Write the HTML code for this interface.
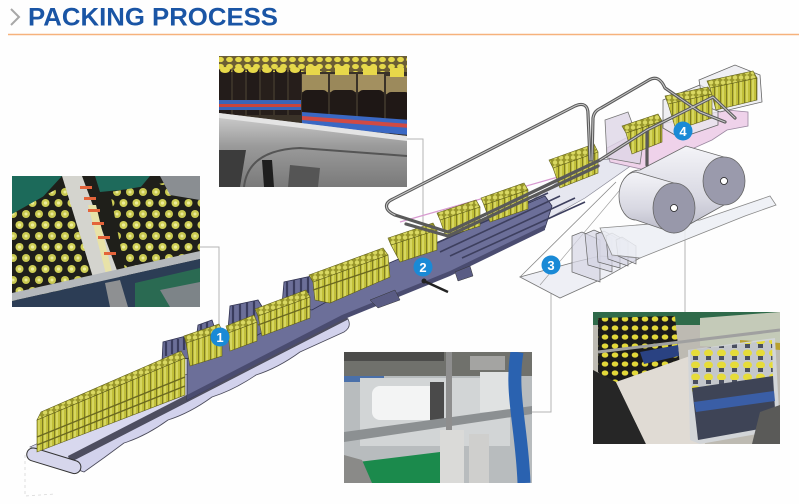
<!DOCTYPE html>
<html><head><meta charset="utf-8"><style>
html,body{margin:0;padding:0;background:#fff;}
svg{display:block}
</style></head><body>
<svg width="799" height="504" viewBox="0 0 799 504" xmlns="http://www.w3.org/2000/svg">
<defs>
<pattern id="bt" width="6" height="20" patternUnits="userSpaceOnUse">
<rect width="6" height="20" fill="#c2c03a"/><rect x="0" width="1.1" height="20" fill="#7e7c22"/><rect x="2.2" width="1.6" height="20" fill="#dcdb6a"/></pattern>
<pattern id="cp" width="6" height="5" patternUnits="userSpaceOnUse">
<rect width="6" height="5" fill="#98962a"/><circle cx="3" cy="2.5" r="2.2" fill="#d9d862"/></pattern>
<pattern id="caps1" width="13" height="22" patternUnits="userSpaceOnUse">
<rect width="13" height="22" fill="#1f1f1a"/><circle cx="6.5" cy="5" r="4" fill="#cfcf55"/><circle cx="6.5" cy="5" r="1.6" fill="#eeee9c"/>
<circle cx="0" cy="16" r="4" fill="#c9c950"/><circle cx="13" cy="16" r="4" fill="#c9c950"/><circle cx="0" cy="16" r="1.5" fill="#eaea98"/><circle cx="13" cy="16" r="1.5" fill="#eaea98"/></pattern>
<pattern id="caps2" width="9" height="7" patternUnits="userSpaceOnUse">
<rect width="9" height="7" fill="#6c5e34"/><ellipse cx="4.5" cy="3.5" rx="3.4" ry="2.6" fill="#e4d84a"/></pattern>
<pattern id="caps4" width="10" height="9" patternUnits="userSpaceOnUse">
<rect width="10" height="9" fill="#1b1b1b"/><ellipse cx="5" cy="4" rx="3.3" ry="2.6" fill="#e2d83a"/></pattern>
<pattern id="caps4b" width="13" height="12" patternUnits="userSpaceOnUse">
<rect width="13" height="12" fill="#c4c7cb"/><ellipse cx="6.5" cy="5" rx="4.5" ry="3.5" fill="#e6dc3a"/><rect x="4" y="8" width="5" height="4" fill="#4a4f60"/></pattern>
<linearGradient id="steel" x1="0" y1="0" x2="0" y2="1"><stop offset="0" stop-color="#d0d0d0"/><stop offset="0.45" stop-color="#9a9a9a"/><stop offset="1" stop-color="#7a7a7a"/></linearGradient>
<linearGradient id="roll" x1="0" y1="0" x2="0" y2="1"><stop offset="0" stop-color="#f4f4f8"/><stop offset="0.6" stop-color="#d8d8e2"/><stop offset="1" stop-color="#b8b8c6"/></linearGradient>
<clipPath id="c1"><rect x="12" y="176" width="188" height="131"/></clipPath>
<clipPath id="c2"><rect x="219" y="56" width="188" height="131"/></clipPath>
<clipPath id="c3"><rect x="344" y="352" width="188" height="131"/></clipPath>
<clipPath id="c4"><rect x="593" y="312" width="187" height="132"/></clipPath>
</defs>
<rect width="799" height="504" fill="#fefefe"/>

<!-- header -->
<polyline points="11,9 19,17 11,25" fill="none" stroke="#a8a8a8" stroke-width="2"/>
<text x="28" y="25.5" font-family="Liberation Sans, Arial, sans-serif" font-weight="bold" font-size="25" fill="#1a55a5" textLength="250" lengthAdjust="spacingAndGlyphs">PACKING PROCESS</text>
<line x1="8" y1="34.5" x2="799" y2="34.5" stroke="#f6b27c" stroke-width="1.6"/>

<polyline points="25,455 25,496 55,494" fill="none" stroke="#d8d8d8" stroke-width="0.8" stroke-dasharray="3,3"/>

<!-- connectors -->
<g stroke="#b4b4b4" stroke-width="1" fill="none">
<polyline points="200,247 219,247 219,330"/>
<polyline points="407,139 423,139 423,260"/>
<polyline points="551,272 551,412 532,412"/>
<polyline points="685,138 685,312"/>
</g>

<!-- ===== PHOTO 1 ===== -->
<g clip-path="url(#c1)">
<rect x="12" y="176" width="188" height="131" fill="#1f1f1a"/>
<polygon points="12,176 62,176 40,200 12,218" fill="#1c6a5a"/>
<polygon points="95,176 150,176 140,188 100,192" fill="#1e6a5b"/>
<polygon points="12,214 62,186 70,190 98,300 12,304" fill="url(#caps1)"/>
<polygon points="110,192 170,182 200,180 200,252 125,270" fill="url(#caps1)"/>
<polygon points="160,176 200,176 200,200 170,195" fill="#8a8e92"/>
<polygon points="62,176 82,176 128,300 112,307 102,307" fill="#d4d4ce"/>
<polygon points="88,205 96,205 112,272 106,274" fill="#e8e2a8"/>
<g fill="#e4643a">
<rect x="80" y="186" width="12" height="3"/><rect x="84" y="197" width="12" height="3"/><rect x="88" y="209" width="12" height="3"/><rect x="92" y="222" width="12" height="3"/><rect x="98" y="236" width="12" height="3"/><rect x="104" y="252" width="12" height="3"/></g>
<polygon points="12,293 200,251 200,259 12,301" fill="#b4b8bc"/>
<polygon points="12,301 200,259 200,307 12,307" fill="#2c3d55"/>
<polygon points="135,283 200,268 200,307 135,307" fill="#2a6a52"/>
<polygon points="105,283 120,280 128,307 110,307" fill="#8e9092"/>
<polygon points="160,290 200,282 200,307 170,307" fill="#7d8488"/>
</g>

<!-- ===== PHOTO 2 ===== -->
<g clip-path="url(#c2)">
<rect x="219" y="56" width="188" height="131" fill="#3a3228"/>
<rect x="219" y="56" width="188" height="16" fill="url(#caps2)"/>
<g>
<rect x="219" y="70" width="12" height="45" fill="#231c1a"/><rect x="233" y="70" width="12" height="45" fill="#261e1b"/><rect x="247" y="70" width="12" height="45" fill="#221b19"/><rect x="261" y="70" width="12" height="45" fill="#271f1b"/><rect x="275" y="70" width="12" height="45" fill="#231c1a"/><rect x="289" y="70" width="12" height="45" fill="#261e1b"/>
<rect x="219" y="100" width="82" height="10" fill="#3a64b8"/><rect x="219" y="104" width="82" height="3" fill="#c9443c"/>
<ellipse cx="225" cy="70" rx="5" ry="3" fill="#e6d84a"/><ellipse cx="239" cy="70" rx="5" ry="3" fill="#e6d84a"/><ellipse cx="253" cy="70" rx="5" ry="3" fill="#e6d84a"/><ellipse cx="267" cy="70" rx="5" ry="3" fill="#e6d84a"/><ellipse cx="281" cy="70" rx="5" ry="3" fill="#e6d84a"/><ellipse cx="295" cy="70" rx="5" ry="3" fill="#e6d84a"/>
</g>
<g>
<rect x="302" y="74" width="26" height="18" fill="#a08e5c"/><rect x="302" y="90" width="26" height="38" rx="5" fill="#1f1816"/><rect x="306" y="66" width="14" height="9" fill="#e8d84a"/>
<rect x="330" y="74" width="26" height="18" fill="#9a885a"/><rect x="330" y="90" width="26" height="40" rx="5" fill="#211a17"/><rect x="335" y="66" width="14" height="9" fill="#e8d84a"/>
<rect x="358" y="74" width="26" height="18" fill="#a39060"/><rect x="358" y="90" width="26" height="42" rx="5" fill="#1e1715"/><rect x="363" y="66" width="14" height="9" fill="#e8d84a"/>
<rect x="386" y="76" width="24" height="18" fill="#9c8a5c"/><rect x="386" y="92" width="24" height="42" rx="5" fill="#201816"/><rect x="390" y="68" width="14" height="9" fill="#e8d84a"/>
<polygon points="302,112 410,120 410,135 302,126" fill="#3a68c4"/>
<polygon points="302,116 410,124 410,128 302,120" fill="#d04a44"/>
</g>
<polygon points="219,113 300,123 407,136 407,187 219,187" fill="url(#steel)"/>
<polygon points="219,113 407,136 407,141 219,118" fill="#e4e4e4"/>
<path d="M244,187 Q248,150 300,148 L407,156" fill="none" stroke="#555" stroke-width="2"/>
<polygon points="219,150 246,150 240,187 219,187" fill="#3c3c3c"/>
<polygon points="262,160 272,160 274,187 264,187" fill="#1e1e1e"/>
<polygon points="290,165 320,168 318,187 288,187" fill="#555"/>
</g>

<!-- ===== PHOTO 3 ===== -->
<g clip-path="url(#c3)">
<rect x="344" y="352" width="188" height="131" fill="#b8bcbe"/>
<rect x="344" y="352" width="188" height="24" fill="#70716c"/>
<rect x="344" y="352" width="100" height="9" fill="#4c4c4a"/>
<rect x="470" y="356" width="35" height="14" fill="#a4a4a2"/>
<rect x="344" y="376" width="40" height="6" fill="#4a70aa"/>
<rect x="360" y="378" width="150" height="68" fill="#d2d5d6"/>
<rect x="372" y="386" width="68" height="34" rx="8" fill="#f3f4f4"/>
<rect x="430" y="382" width="14" height="38" fill="#4a4a4a"/>
<rect x="480" y="372" width="40" height="40" fill="#e0e2e2"/>
<polygon points="344,432 532,406 532,414 344,442" fill="#8c9092"/>
<rect x="446" y="352" width="6" height="131" fill="#8e8e8e"/>
<rect x="440" y="430" width="24" height="53" fill="#dadad8"/>
<rect x="469" y="434" width="20" height="49" fill="#cfcfcd"/>
<path d="M517,352 C510,392 522,428 524,483" fill="none" stroke="#2a62b0" stroke-width="13"/>
<polygon points="358,462 440,452 440,483 354,483" fill="#1b8a4c"/>
<polygon points="344,455 362,460 372,483 344,483" fill="#8a8a88"/>
</g>

<!-- ===== PHOTO 4 ===== -->
<g clip-path="url(#c4)">
<rect x="593" y="312" width="187" height="132" fill="#bdbab2"/>
<rect x="593" y="312" width="187" height="13" fill="#2f6a4a"/>
<polygon points="700,318 780,312 780,350 700,346" fill="#c4cab8"/>
<polygon points="740,340 780,343 780,350 740,347" fill="#b8a030"/>
<polygon points="598,318 675,316 680,366 612,385 598,372" fill="url(#caps4)"/>
<polygon points="640,352 678,345 679,356 644,364" fill="#2a4282"/>
<line x1="598" y1="352" x2="780" y2="330" stroke="#a0a0a0" stroke-width="3"/>
<polygon points="593,370 616,382 646,444 593,444" fill="#262626"/>
<polygon points="616,382 690,356 705,444 646,444" fill="#e0dbd4"/>
<polygon points="688,350 775,338 780,430 700,444 690,440" fill="#d2d5d8"/>
<polygon points="690,350 772,340 773,380 692,392" fill="url(#caps4b)"/>
<polygon points="692,388 773,376 776,426 698,440" fill="#3e4456"/>
<polygon points="694,402 774,391 775,401 696,412" fill="#3a5ea6"/>
<polygon points="760,412 780,405 780,444 752,444" fill="#5a5a58"/>
</g>

<!-- ===== DIAGRAM ===== -->
<!-- belt top face -->
<polygon points="30,447 340,303 348,312 70,459" fill="#d8d8ee" stroke="#4a4a5a" stroke-width="0.6"/>
<!-- belt lobes (return belt) -->
<path d="M70,462 L348,319 Q352,327 344,332 Q322,342 300,352 Q278,368 256,375 Q234,390 212,397 Q190,413 168,420 Q146,436 124,443 Q104,458 84,472 Q76,470 70,462 Z" fill="#d2d2ec" stroke="#4a4a5a" stroke-width="0.8"/>
<!-- frame strip -->
<polygon points="68,456 346,313 348,319 70,462" fill="#4e4e60"/>
<!-- front roller -->
<g transform="rotate(17 53 460)"><rect x="26" y="454" width="56" height="13" rx="6.5" fill="#d6d6ec" stroke="#333" stroke-width="1"/></g>

<!-- rail area platform -->
<polygon points="500,222 590,160 642,158 585,198 535,226" fill="#e6e7f0" stroke="#8a8a98" stroke-width="0.7"/>

<!-- conveyor bed -->
<polygon points="187,400 187,350 545,196 552,206 545,228 450,274 342,318" fill="#6c6f99" stroke="#2f3150" stroke-width="0.8"/>
<polygon points="187,400 342,320 450,276 545,230 545,225 450,271 342,315 187,395" fill="#4a4c70"/>
<polygon points="370,300 395,290 400,300 378,308" fill="#5a5c84" stroke="#333" stroke-width="0.5"/>
<polygon points="455,272 470,266 473,276 458,281" fill="#5a5c84" stroke="#333" stroke-width="0.5"/>
<line x1="424" y1="281" x2="448" y2="292" stroke="#222" stroke-width="2.5"/>
<circle cx="424" cy="281" r="2.5" fill="#222"/>

<!-- fins with posts -->
<g fill="#6c6f99" stroke="#2f3150" stroke-width="0.8">
<polygon points="162,362 163,342 186,336 190,358"/>
<polygon points="196,340 198,325 212,320 218,338"/>
<polygon points="228,330 230,306 258,300 274,326 256,336"/>
<polygon points="282,305 284,282 312,276 330,300 312,310"/>
</g>
<g stroke="#3a3c5e" stroke-width="2.2">
<line x1="166" y1="356" x2="166" y2="342"/><line x1="172" y1="354" x2="172" y2="340"/><line x1="178" y1="352" x2="178" y2="339"/><line x1="184" y1="350" x2="184" y2="337"/>
<line x1="201" y1="338" x2="201" y2="324"/><line x1="207" y1="336" x2="207" y2="322"/>
<line x1="233" y1="325" x2="233" y2="306"/><line x1="240" y1="322" x2="240" y2="304"/><line x1="247" y1="320" x2="247" y2="302"/><line x1="254" y1="318" x2="254" y2="301"/>
<line x1="287" y1="300" x2="287" y2="282"/><line x1="294" y1="297" x2="294" y2="280"/><line x1="301" y1="295" x2="301" y2="278"/><line x1="308" y1="293" x2="308" y2="277"/>
</g>

<!-- rollers in rail area -->
<g stroke="#3d3f5e" stroke-width="1.6">
<line x1="440" y1="252" x2="560" y2="196"/><line x1="450" y1="256" x2="575" y2="198"/><line x1="462" y1="258" x2="585" y2="202"/><line x1="430" y1="246" x2="548" y2="193"/>
</g>
<line x1="400" y1="222" x2="600" y2="165" stroke="#d89ad0" stroke-width="1.2"/>

<!-- pink area -->
<polygon points="607,148 647,127 727,110 748,112 748,126 727,130 712,140 645,170 610,162" fill="#efd2ea" stroke="#9a88a0" stroke-width="0.8"/>
<polygon points="605,120 628,112 642,150 640,164 607,158" fill="#ddd6e6" fill-opacity="0.8" stroke="#777" stroke-width="0.8"/>

<!-- trough / plates -->
<polygon points="520,277 560,298 604,278 640,258 600,256 575,262" fill="#eeeff5" stroke="#777" stroke-width="0.8"/>
<line x1="520" y1="277" x2="616" y2="182" stroke="#888" stroke-width="0.8"/>
<line x1="540" y1="285" x2="630" y2="178" stroke="#999" stroke-width="0.6"/>
<g fill="#d6d6e4" fill-opacity="0.7" stroke="#666" stroke-width="0.7">
<polygon points="572,236 582,232 600,240 600,282 572,272"/>
<polygon points="585,234 594,230 612,238 612,272 588,265"/>
<polygon points="596,234 604,231 620,240 620,268 598,262"/>
<polygon points="606,236 612,233 628,242 628,266 608,259"/>
<polygon points="616,240 622,237 636,246 636,264 618,256"/>
</g>
<polygon points="600,228 700,220 770,196 776,205 745,216 705,232 640,258 612,255" fill="#eceef4" fill-opacity="0.85" stroke="#888" stroke-width="0.8"/>

<!-- film rolls -->
<g stroke="#666" stroke-width="0.8">
<path d="M640,170 L686,146 L724,157 L724,205 L674,233 L640,218 A20,24 0 0 1 640,170 Z" fill="url(#roll)"/>
<ellipse cx="724" cy="181" rx="21" ry="24" fill="#9a9aac"/>
<circle cx="724" cy="181" r="3.5" fill="#fff" stroke="#222"/>
<path d="M636,172 L674,183 L674,233 L636,220 A17,24 0 0 1 636,172 Z" fill="url(#roll)"/>
<ellipse cx="674" cy="208" rx="21" ry="25" fill="#9898aa"/>
<circle cx="674" cy="208" r="3.5" fill="#fff" stroke="#222"/>
</g>

<!-- boxes in back -->
<polygon points="663,100 700,85 718,95 718,125 680,138 663,128" fill="#e8e8ee" fill-opacity="0.7" stroke="#666" stroke-width="0.8"/>
<polygon points="699,80 735,65 760,75 762,102 720,112 703,105" fill="#e8e8ee" fill-opacity="0.7" stroke="#666" stroke-width="0.8"/>

<!-- bottle groups -->
<g stroke="#5e5d18" stroke-width="0.6">
<polygon points="37,420 185,358 185,395 37,452" fill="url(#bt)"/>
<polygon points="37,420 185,358 181,351 41,412" fill="url(#cp)"/>
<polygon points="186,343 222,331 222,356 190,366" fill="url(#bt)"/>
<polygon points="186,343 222,331 219,324 184,336" fill="url(#cp)"/>
<polygon points="228,333 257,322 257,341 230,351" fill="url(#bt)"/>
<polygon points="228,333 257,322 254,315 226,326" fill="url(#cp)"/>
<polygon points="258,316 310,297 310,318 262,336" fill="url(#bt)"/>
<polygon points="258,316 310,297 306,290 255,309" fill="url(#cp)"/>
<polygon points="313,282 388,255 390,277 330,303 315,300" fill="url(#bt)"/>
<polygon points="313,282 388,255 383,248 309,275" fill="url(#cp)"/>
<polygon points="391,245 437,230 437,250 400,262" fill="url(#bt)"/>
<polygon points="391,245 437,230 433,223 388,238" fill="url(#cp)"/>
<polygon points="440,220 480,207 480,226 446,237" fill="url(#bt)"/>
<polygon points="440,220 480,207 476,200 437,213" fill="url(#cp)"/>
<polygon points="484,205 528,190 528,209 490,222" fill="url(#bt)"/>
<polygon points="484,205 528,190 524,183 481,198" fill="url(#cp)"/>
<polygon points="553,168 598,152 598,173 560,188" fill="url(#bt)"/>
<polygon points="553,168 598,152 594,144 549,160" fill="url(#cp)"/>
<polygon points="626,133 662,121 662,142 632,154" fill="url(#bt)"/>
<polygon points="626,133 662,121 658,114 622,126" fill="url(#cp)"/>
<polygon points="668,104 712,94 712,118 676,130" fill="url(#bt)"/>
<polygon points="668,104 712,94 708,87 665,96" fill="url(#cp)"/>
<polygon points="710,88 757,78 757,100 716,110" fill="url(#bt)"/>
<polygon points="710,88 757,78 753,71 707,81" fill="url(#cp)"/>
</g>
<g stroke="#6a6820" stroke-width="1.4" fill="none">
<polyline points="37,437 185,377"/><polyline points="37,445 185,386"/>
<polyline points="313,290 388,265"/><polyline points="258,325 310,306"/>
</g>

<!-- rails (tubes) -->
<g fill="none" stroke-linecap="round" stroke-linejoin="round">
<g stroke="#5a5a5a" stroke-width="3.2">
<path d="M395,215 C384,210 384,203 393,199 L575,106 C584,102 588,106 588,114 L590,160"/>
<path d="M395,215 L448,232 L600,160"/>
<path d="M592,160 L593,118 C594,112 597,110 601,108 L649,80 C656,76 661,79 665,88 L700,112 L725,122"/>
<path d="M600,160 L647,130 L713,97 L735,118"/>
<path d="M647,130 L647,165"/>
<path d="M406,224 L448,236 L598,166"/>
</g>
<g stroke="#c8c8c8" stroke-width="1">
<path d="M395,215 C384,210 384,203 393,199 L575,106 C584,102 588,106 588,114 L590,160"/>
<path d="M592,160 L593,118 C594,112 597,110 601,108 L649,80 C656,76 661,79 665,88 L700,112 L725,122"/>
<path d="M600,160 L647,130 L713,97 L735,118"/>
</g>
</g>

<!-- numbered markers -->
<g font-family="Liberation Sans, Arial, sans-serif" font-weight="bold" font-size="13" fill="#fff" text-anchor="middle">
<circle cx="220" cy="337" r="9.5" fill="#1a8ad6"/><text x="220" y="341.8">1</text>
<circle cx="423" cy="267" r="9.5" fill="#1a8ad6"/><text x="423" y="271.8">2</text>
<circle cx="551" cy="265" r="9.5" fill="#1a8ad6"/><text x="551" y="269.8">3</text>
<circle cx="683" cy="131" r="9.5" fill="#1a8ad6"/><text x="683" y="135.8">4</text>
</g>
</svg>
</body></html>
